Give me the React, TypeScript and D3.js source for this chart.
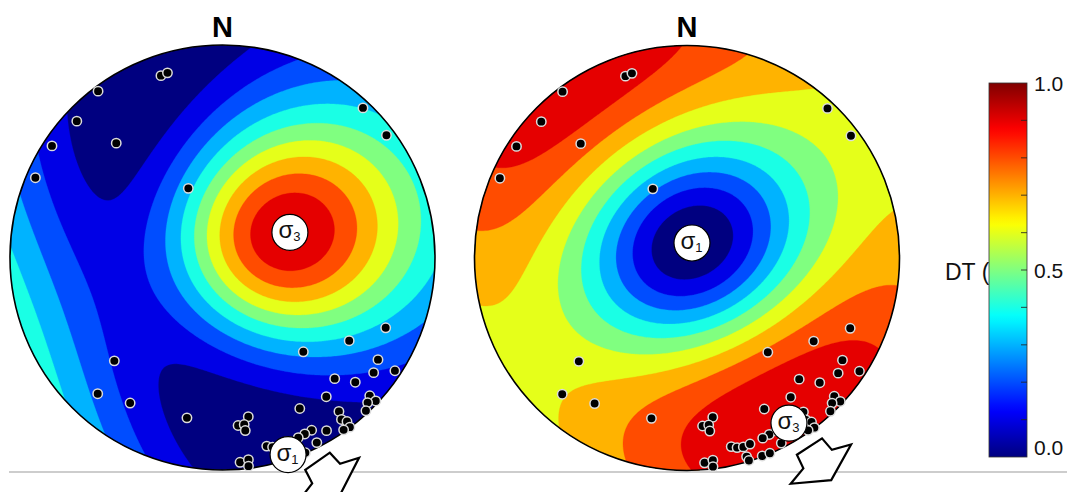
import React, { useMemo } from 'react';
import * as d3 from 'd3';

const W = 1072;
const H = 492;

// Principal stress axes as [trend, plunge] in degrees, and stress ratio phi = (s2 - s3) / (s1 - s3)
const leftSigma1 = [161.6, 1.3];
const leftSigma3 = [69.6, 52.6];
const leftPhi = 0.84;
const rightSigma1 = [18.4, 81.5];
const rightSigma3 = [148.3, 5.2];
const rightPhi = 0.33;

// Poles to fractures, trend / plunge in degrees (lower hemisphere)
const poleTrend = [
  341.3, 343.4, 323.2, 313.1, 317.1, 303.2, 293.1, 333.7, 43.2, 53.3,
  226.3, 222.5, 212.4, 192.5,
  113.3, 123.3, 139.4, 123.3, 123.3, 127.3, 137.2, 133.2, 143.3, 133.2,
  133.1, 135.0, 136.9, 152.9, 142.9, 143.7, 142.8, 143.1, 144.9, 149.0,
  152.7, 155.0, 157.2, 153.0, 170.8, 174.7, 172.6, 172.5, 166.8, 165.2,
  163.4, 161.3, 163.3, 163.0, 159.2, 157.0, 175.1, 172.7, 172.9,
];
const polePlunge = [
  5.8, 5.6, 1.3, 3.6, 17.4, 2.4, 2.5, 50.1, 2.0, 2.2,
  19.7, 8.0, 11.9, 14.6,
  10.2, 19.0, 29.4, 7.6, 1.7, 6.4, 14.3, 8.8, 11.5, 2.9,
  0.7, 2.0, 0.7, 12.8, 5.5, 3.2, 1.8, 0.1, 0.5, 2.9,
  5.1, 5.0, 4.8, 1.3, 15.6, 13.1, 13.2, 11.2, 5.3, 4.6,
  4.3, 4.5, 1.4, 0.2, 0.2, 0.1, 1.9, 2.4, 0.6,
];

// Contour levels of dilation tendency and colour bar ticks
const dtLevels = [0, 0.1, 0.2, 0.3, 0.4, 0.5, 0.6, 0.7, 0.8, 0.9];
const barTicks = [0.1, 0.2, 0.3, 0.4, 0.5, 0.6, 0.7, 0.8, 0.9];
const barLabels = [0, 0.5, 1];

const FONT = "'Liberation Sans', Arial, Helvetica, sans-serif";
const R = 212.5;

type Vec = [number, number, number];
const rad = Math.PI / 180;

function jet(v: number): string {
  const c = (x: number) => Math.max(0, Math.min(1, x));
  return d3
    .rgb(
      255 * c(Math.min(4 * v - 1.5, -4 * v + 4.5)),
      255 * c(Math.min(4 * v - 0.5, -4 * v + 3.5)),
      255 * c(Math.min(4 * v + 0.5, -4 * v + 2.5))
    )
    .formatHex();
}

function toVec(trend: number, plunge: number): Vec {
  const t = trend * rad;
  const p = plunge * rad;
  return [Math.cos(p) * Math.cos(t), Math.cos(p) * Math.sin(t), Math.sin(p)];
}
const dot = (a: Vec, b: Vec) => a[0] * b[0] + a[1] * b[1] + a[2] * b[2];
const cross = (a: Vec, b: Vec): Vec => [
  a[1] * b[2] - a[2] * b[1],
  a[2] * b[0] - a[0] * b[2],
  a[0] * b[1] - a[1] * b[0],
];
const norm = (a: Vec): Vec => {
  const l = Math.hypot(a[0], a[1], a[2]);
  return [a[0] / l, a[1] / l, a[2] / l];
};

// equal-angle (Wulff) lower hemisphere projection to unit-disc coordinates (y pointing south)
function project(trend: number, plunge: number): [number, number] {
  const r = Math.tan(((90 - plunge) / 2) * rad);
  return [r * Math.sin(trend * rad), -r * Math.cos(trend * rad)];
}

// dilation tendency (s1 - sn) / (s1 - s3) for every grid node of the net
function dilationField(s1: number[], s3: number[], phi: number, n: number, ext: number) {
  const a = toVec(s1[0], s1[1]);
  let b = toVec(s3[0], s3[1]);
  const d = dot(a, b);
  b = norm([b[0] - d * a[0], b[1] - d * a[1], b[2] - d * a[2]]);
  const c = norm(cross(a, b));
  const cell = (2 * ext) / n;
  const values = new Float64Array(n * n);
  for (let j = 0; j < n; j++) {
    const y = -ext + (j + 0.5) * cell;
    for (let i = 0; i < n; i++) {
      const x = -ext + (i + 0.5) * cell;
      const r = Math.hypot(x, y);
      const plunge = 90 - 2 * Math.atan(r) / rad;
      const trend = Math.atan2(x, -y) / rad;
      const v = toVec(trend, plunge);
      const l1 = dot(v, a);
      const l2 = dot(v, c);
      values[j * n + i] = 1 - l1 * l1 - phi * l2 * l2;
    }
  }
  return values;
}

interface NetProps {
  id: string;
  cx: number;
  cy: number;
  s1: number[];
  s3: number[];
  phi: number;
  arrowPos: number;
  arrowAxis: number;
}

function SigmaLabel({ x, y, sub }: { x: number; y: number; sub: string }) {
  return (
    <g>
      <circle cx={x} cy={y} r={18} fill="#ffffff" stroke="#000" strokeWidth={1.2} />
      <text x={x - 0.5} y={y + 6} fontFamily={FONT} fontSize={24} textAnchor="middle" fill="#111">
        σ<tspan fontSize={13} dy={3}>{sub}</tspan>
      </text>
    </g>
  );
}

function Net({ id, cx, cy, s1, s3, phi, arrowPos, arrowAxis }: NetProps) {
  const n = 240;
  const ext = 1.06;
  const xs = d3.scaleLinear().domain([-1, 1]).range([cx - R, cx + R]);
  const ys = d3.scaleLinear().domain([-1, 1]).range([cy - R, cy + R]);

  const bands = useMemo(() => {
    const values = dilationField(s1, s3, phi, n, ext);
    const cell = (2 * ext) / n;
    const path = d3.geoPath(
      d3.geoIdentity().scale(cell * R).translate([cx - ext * R, cy - ext * R]) as any
    );
    const gen = d3.contours().size([n, n]).thresholds(dtLevels.slice(1));
    return gen(Array.from(values)).map((g) => ({ value: g.value, d: path(g as any) || '' }));
  }, [s1, s3, phi, cx, cy]);

  const p1 = project(s1[0], s1[1]);
  const p3 = project(s3[0], s3[1]);

  // open block arrow in a local frame: u along the outward axis, v across it
  const shape: [number, number][] = [
    [0, -15], [0, 15], [15, 17], [21, 36], [40, 0], [21, -36], [15, -17],
  ];
  const [ax, ay] = project(arrowPos, 0);
  const bx = xs(ax * 1.058);
  const by = ys(ay * 1.058);
  const du = [Math.sin(arrowAxis * rad), -Math.cos(arrowAxis * rad)];
  const dv = [-du[1], du[0]];
  const arrowPts = shape.map(([u, v]) => [bx + u * du[0] - v * dv[0], by + u * du[1] - v * dv[1]]);

  return (
    <g>
      <defs>
        <clipPath id={id}>
          <circle cx={cx} cy={cy} r={R} />
        </clipPath>
      </defs>
      <g clipPath={`url(#${id})`}>
        <circle cx={cx} cy={cy} r={R} fill={jet(dtLevels[0])} />
        {bands.map((b) => (
          <path key={b.value} d={b.d} fill={jet(b.value)} stroke={jet(b.value)} strokeWidth={0.3} />
        ))}
      </g>
      <circle cx={cx} cy={cy} r={R} fill="none" stroke="#000" strokeWidth={1.6} />
      <text x={cx} y={37} fontFamily={FONT} fontSize={29} fontWeight="bold" textAnchor="middle" fill="#000">
        N
      </text>
      {poleTrend.map((t, i) => {
        const [px, py] = project(t, polePlunge[i]);
        return (
          <circle key={i} cx={xs(px)} cy={ys(py)} r={4.7} fill="#000" stroke="#dcdcdc" strokeWidth={1.5} />
        );
      })}
      <SigmaLabel x={xs(p3[0])} y={ys(p3[1])} sub="3" />
      <SigmaLabel x={xs(p1[0])} y={ys(p1[1])} sub="1" />
      <polygon
        points={arrowPts.map((p) => p.join(',')).join(' ')}
        fill="#fff"
        stroke="#000"
        strokeWidth={2.2}
        strokeLinejoin="miter"
      />
    </g>
  );
}

function ColorBar() {
  const x0 = 989;
  const x1 = 1027;
  const y = d3.scaleLinear().domain([0, 1]).range([457, 83]);
  const stops = d3.range(0, 1.0001, 0.02);
  return (
    <g>
      <defs>
        <linearGradient id="dtGrad" x1="0" y1="1" x2="0" y2="0">
          {stops.map((s) => (
            <stop key={s} offset={`${(s * 100).toFixed(1)}%`} stopColor={jet(s)} />
          ))}
        </linearGradient>
      </defs>
      <text x={945} y={280} fontFamily={FONT} fontSize={23} fill="#111">
        DT (
      </text>
      <rect x={x0} y={y(1)} width={x1 - x0} height={y(0) - y(1)} fill="url(#dtGrad)" stroke="#333" strokeWidth={0.8} />
      {barTicks.map((t) => (
        <line key={t} x1={x1 - 6} x2={x1} y1={y(t)} y2={y(t)} stroke="#222" strokeOpacity={0.7} strokeWidth={1.2} />
      ))}
      {barLabels.map((t) => (
        <text
          key={t}
          x={1034}
          y={Math.min(y(t) + 7.5, y(0) - 2)}
          fontFamily={FONT}
          fontSize={21}
          fill="#111"
        >
          {t.toFixed(1)}
        </text>
      ))}
    </g>
  );
}

export default function App() {
  return (
    <svg
      width={W}
      height={H}
      viewBox={`0 0 ${W} ${H}`}
      style={{ position: 'fixed', left: 0, top: 0, background: '#fff', display: 'block' }}
    >
      <rect x={0} y={0} width={W} height={H} fill="#fff" />
      <line x1={9} x2={1067} y1={472} y2={472} stroke="#bdbdbd" strokeWidth={1.5} />
      <Net id="netL" cx={222.5} cy={257.5} s1={leftSigma1} s3={leftSigma3} phi={leftPhi} arrowPos={155} arrowAxis={145} />
      <Net id="netR" cx={687} cy={258} s1={rightSigma1} s3={rightSigma3} phi={rightPhi} arrowPos={147} arrowAxis={147} />
      <ColorBar />
    </svg>
  );
}
